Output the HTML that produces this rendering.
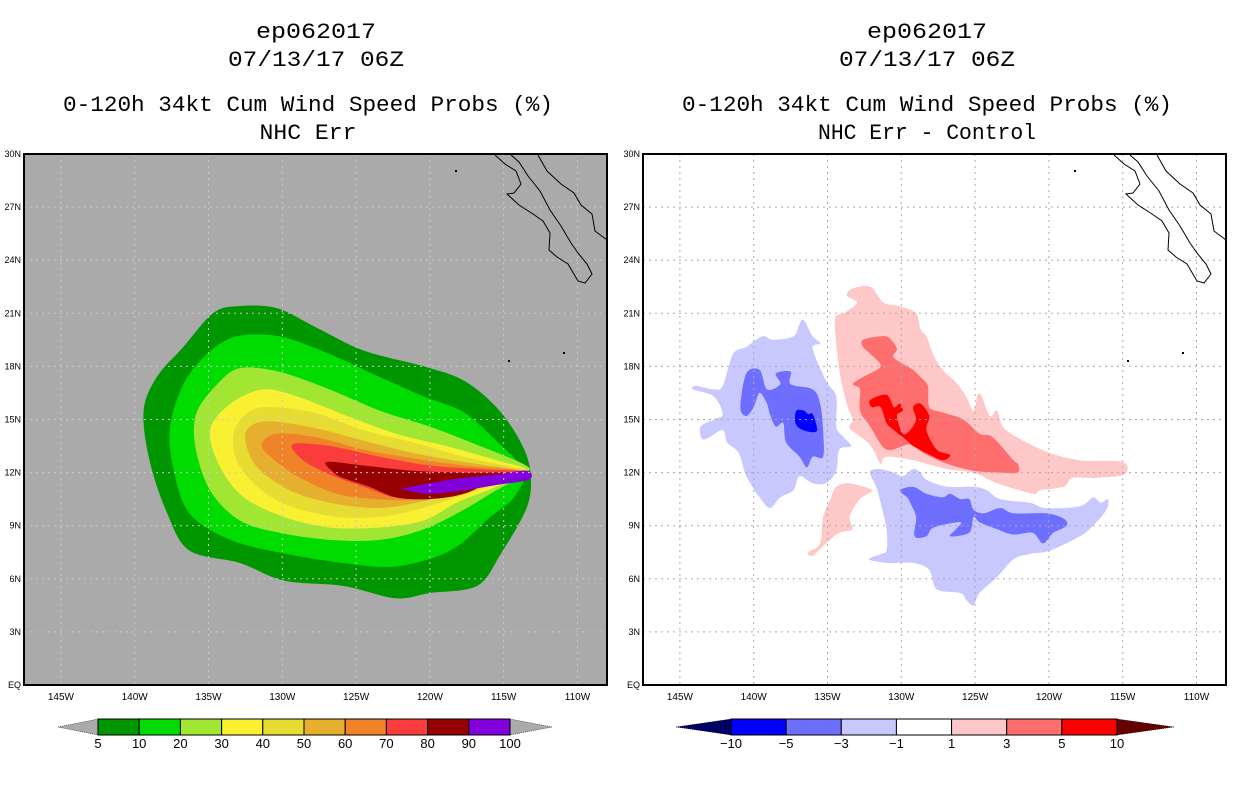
<!DOCTYPE html>
<html><head><meta charset="utf-8"><style>
html,body{margin:0;padding:0;background:#fff;}
svg{display:block;font-family:"Liberation Mono",monospace;}
</style></head><body>
<svg id="fig" width="1236" height="800" viewBox="0 0 1236 800" xmlns="http://www.w3.org/2000/svg">
<g font-size="22" text-anchor="middle" fill="#000">
<text x="316" y="38" textLength="120" lengthAdjust="spacingAndGlyphs">ep062017</text>
<text x="316" y="66" textLength="176" lengthAdjust="spacingAndGlyphs">07/13/17 06Z</text>
<text x="308" y="111" textLength="490" lengthAdjust="spacingAndGlyphs">0-120h 34kt Cum Wind Speed Probs (%)</text>
<text x="308" y="139" textLength="97" lengthAdjust="spacingAndGlyphs">NHC Err</text>
</g>
<g font-size="22" text-anchor="middle" fill="#000">
<text x="927" y="38" textLength="120" lengthAdjust="spacingAndGlyphs">ep062017</text>
<text x="927" y="66" textLength="176" lengthAdjust="spacingAndGlyphs">07/13/17 06Z</text>
<text x="927" y="111" textLength="490" lengthAdjust="spacingAndGlyphs">0-120h 34kt Cum Wind Speed Probs (%)</text>
<text x="927" y="139" textLength="218" lengthAdjust="spacingAndGlyphs">NHC Err - Control</text>
</g>
<g id="leftPanel"></g>
<g id="rightPanel"></g>
<g id="leftBar"></g>
<g id="rightBar"></g>
</svg>
<script>
// ---- data ----
const lonTicks = [-145,-140,-135,-130,-125,-120,-115,-110];
const lonTickLabels = ["145W","140W","135W","130W","125W","120W","115W","110W"];
const latTicks = [0,3,6,9,12,15,18,21,24,27,30];
const latTickLabels = ["EQ","3N","6N","9N","12N","15N","18N","21N","24N","27N","30N"];
const probLevels = ["5","10","20","30","40","50","60","70","80","90","100"];
const probColors = ["#009600","#00dc00","#a0e632","#faf032","#e6dc32","#e6af2d","#f08228","#fa3c3c","#960000","#8200dc"];
const diffLevels = ["-10","-5","-3","-1","1","3","5","10"];
const diffColors = ["#0000ff","#6e6eff","#c8c8ff","#ffffff","#ffc8c8","#ff6e6e","#ff0000"];
// left contours
const p5Lon = [-133.1,-130.4,-127.7,-124.5,-120.4,-117.7,-115.5,-113.9,-113.2,-113.4,-115.2,-116.8,-120.0,-122.3,-125.9,-129.9,-132.9,-136.3,-137.8,-139.0,-139.4,-138.5,-136.7,-134.7];
const p5Lat = [21.4,21.3,20.2,18.9,18.0,17.2,15.7,13.8,12.1,10.1,7.4,5.6,5.2,4.9,5.6,5.9,6.9,7.6,9.7,12.7,15.5,17.4,19.1,21.0];
const p10Lon = [-133.1,-130.2,-126.8,-123.4,-120.4,-117.7,-115.5,-113.9,-113.4,-114.4,-115.9,-118.6,-122.3,-125.9,-129.7,-133.5,-136.3,-137.4,-137.6,-136.7,-135.1];
const p10Lat = [19.7,19.7,18.7,17.4,16.3,15.4,13.8,12.5,12.0,10.5,9.5,7.6,6.7,6.9,7.4,8.2,9.7,12.3,14.6,17.0,18.7];
const p20Lon = [-132.9,-130.2,-126.8,-123.4,-120.0,-116.6,-113.7,-113.4,-115.5,-117.7,-120.4,-123.4,-126.8,-130.2,-132.9,-134.9,-135.9,-135.8,-134.4];
const p20Lat = [17.9,17.7,16.7,15.5,14.6,13.5,12.5,12.0,11.0,9.9,8.8,8.2,8.2,8.6,9.3,11.0,13.5,15.4,17.0];
const p30Lon = [-131.3,-129.0,-125.6,-122.3,-118.9,-115.5,-113.4,-115.5,-118.2,-120.4,-123.4,-126.8,-129.9,-132.6,-134.2,-134.9,-133.5];
const p30Lat = [16.7,16.3,15.2,14.2,13.5,12.7,12.1,11.2,10.3,9.3,8.9,8.9,9.5,10.6,12.3,14.4,15.9];
const p40Lon = [-131.3,-127.9,-124.5,-121.1,-117.7,-114.3,-113.4,-115.5,-118.2,-120.9,-123.4,-126.3,-129.5,-131.7,-133.1,-133.3,-132.6];
const p40Lat = [15.7,15.4,14.4,13.7,12.9,12.3,12.1,11.4,10.6,9.9,9.5,9.5,10.1,11.2,12.7,14.2,15.2];
const p50Lon = [-130.8,-127.7,-124.5,-121.1,-117.7,-114.3,-113.4,-115.5,-118.2,-120.9,-123.6,-126.8,-129.5,-131.7,-132.5,-132.2];
const p50Lat = [14.9,14.5,13.8,13.1,12.6,12.2,12.0,11.5,10.9,10.3,10.0,10.3,11.0,12.3,13.8,14.6];
const p60Lon = [-130.4,-127.7,-124.5,-121.1,-117.7,-113.4,-117.7,-120.9,-123.6,-126.3,-129.0,-130.8,-131.4];
const p60Lat = [14.2,14.0,13.3,12.8,12.4,12.0,11.2,10.5,10.5,10.8,11.8,12.9,13.6];
const p70Lon = [-129.3,-126.8,-123.4,-120.0,-116.6,-113.4,-116.6,-120.0,-122.3,-124.5,-126.8,-128.6];
const p70Lat = [13.6,13.5,12.9,12.4,12.2,12.0,11.5,10.8,10.6,11.2,11.9,12.7];
const p80Lon = [-127.0,-124.5,-121.1,-117.7,-113.4,-115.5,-117.7,-120.0,-122.3,-124.1,-125.9,-126.5];
const p80Lat = [12.6,12.4,12.1,12.0,12.0,11.6,10.8,10.5,10.6,11.2,11.7,12.0];
const p90Lon = [-121.8,-120.0,-117.7,-115.5,-113.4,-113.3,-115.5,-117.7,-120.0,-121.6];
const p90Lat = [11.1,11.4,11.7,11.9,12.1,11.6,11.3,11.0,10.8,11.0];
// right contours
const lbWLon = [-136.6,-136.0,-135.5,-136.0,-135.1,-134.4,-134.4,-133.9,-133.4,-134.2,-134.4,-135.1,-136.0,-136.9,-137.3,-138.2,-138.9,-139.6,-140.5,-140.9,-141.2,-141.8,-142.1,-143.0,-143.5,-143.6,-142.7,-142.1,-142.7,-144.1,-143.9,-142.7,-142.1,-141.4,-140.5,-139.4,-138.7,-137.3,-136.9];
const lbWLat = [20.6,19.7,19.3,19.0,17.2,16.3,14.6,14.0,13.5,13.3,12.1,11.4,11.4,11.8,11.0,10.6,10.0,10.6,11.8,12.9,13.3,13.7,14.4,14.0,13.9,14.6,15.0,15.3,16.3,16.7,16.9,16.7,16.9,18.7,19.1,19.7,19.5,19.7,20.4];
const mbWLon = [-140.5,-139.6,-139.1,-138.2,-138.5,-137.5,-137.5,-136.0,-135.5,-135.3,-135.3,-136.0,-136.4,-136.9,-137.8,-138.0,-138.5,-138.9,-139.1,-139.6,-140.0,-140.5,-140.9];
const mbWLat = [17.6,17.8,16.7,17.0,17.6,17.7,17.0,16.7,15.9,14.4,12.9,12.9,12.3,12.9,13.7,14.8,14.6,15.3,15.9,16.5,15.7,15.2,15.7];
const dbWLon = [-137.1,-136.6,-136.3,-136.0,-135.7,-136.2,-136.9,-137.2];
const dbWLat = [15.5,15.5,15.3,15.3,14.4,14.3,14.5,14.9];
const lrNLon = [-133.7,-133.3,-132.1,-131.2,-130.1,-129.0,-128.7,-128.3,-127.8,-127.2,-126.3,-125.6,-125.1,-124.7,-124.0,-123.5,-122.9,-120.2,-117.9,-115.0,-114.9,-116.8,-118.4,-119.0,-120.6,-121.1,-123.5,-125.1,-126.9,-129.2,-131.0,-131.4,-131.9,-132.4,-133.5,-133.3,-133.7,-134.2,-134.5,-133.9,-133.0];
const lrNLat = [22.0,22.4,22.5,21.6,21.4,21.0,20.1,19.7,18.6,17.8,17.1,16.3,15.5,16.5,15.2,15.5,14.4,13.2,12.7,12.6,11.9,11.7,11.7,11.2,11.0,10.8,11.4,12.0,12.2,12.7,12.9,12.5,13.3,13.8,14.5,15.0,15.9,17.8,20.6,21.0,21.6];
const mrNLon = [-132.6,-131.4,-130.8,-130.3,-130.5,-129.2,-128.7,-128.2,-128.1,-127.2,-125.8,-124.7,-123.8,-122.4,-122.1,-122.1,-123.3,-125.1,-126.9,-128.5,-129.4,-131.0,-132.1,-132.8,-132.8,-133.3,-132.6,-131.4,-132.1,-132.6];
const mrNLat = [19.5,19.7,19.6,19.0,18.5,17.8,17.4,16.9,15.7,15.4,15.0,14.2,14.0,12.7,12.5,12.0,12.0,12.1,12.5,13.1,13.6,13.3,14.6,15.5,16.7,17.0,17.4,18.0,18.7,19.1];
const rNLon = [-132.1,-131.0,-130.5,-130.1,-129.9,-130.3,-129.9,-129.4,-129.0,-129.2,-128.7,-128.1,-128.3,-127.6,-126.7,-127.2,-128.3,-129.2,-129.6,-130.5,-131.0,-131.4,-132.0];
const rNLat = [16.1,16.4,15.7,15.9,15.5,15.2,14.2,14.4,15.0,15.7,15.9,15.2,14.4,13.3,13.0,12.7,13.1,13.5,13.8,14.4,14.8,15.7,15.7];
const lrSWLon = [-134.4,-133.5,-132.0,-132.8,-133.5,-133.3,-134.2,-135.1,-136.0,-136.3,-135.5,-135.3,-134.8];
const lrSWLat = [11.2,11.4,11.0,10.5,9.5,8.8,8.6,8.0,7.3,7.5,8.0,9.5,10.5];
const lbSLon = [-132.1,-131.4,-130.5,-129.9,-129.2,-128.7,-128.3,-126.9,-125.1,-124.2,-123.3,-121.3,-120.2,-117.9,-117.0,-116.5,-116.0,-116.1,-117.0,-117.9,-119.9,-121.3,-122.4,-123.5,-124.7,-125.1,-125.6,-126.0,-127.6,-128.1,-129.2,-131.0,-132.2,-131.4,-131.0,-131.0,-131.4,-131.7,-132.0];
const lbSLat = [12.1,12.2,12.0,11.8,12.2,12.0,11.6,11.2,11.2,11.0,10.5,10.3,10.0,10.1,10.6,10.3,10.5,9.9,9.0,8.4,7.6,7.4,7.1,6.1,5.2,4.5,4.8,5.2,5.4,6.5,6.9,6.9,7.1,7.4,7.6,8.8,10.3,11.2,11.7];
const mbSLon = [-130.1,-129.2,-128.3,-127.2,-126.7,-126.0,-125.4,-125.1,-124.4,-123.3,-122.4,-120.2,-119.0,-118.8,-119.7,-120.4,-121.1,-122.4,-123.5,-124.7,-125.1,-125.4,-126.7,-126.3,-126.0,-127.8,-128.3,-129.1,-129.0,-129.4,-129.6];
const mbSLat = [11.0,11.2,10.8,10.6,10.8,10.5,10.5,9.9,9.7,10.0,9.7,9.7,9.4,9.0,8.6,8.0,8.6,8.5,8.8,9.2,9.5,8.6,8.4,8.8,9.2,8.9,8.4,8.4,9.5,10.3,10.6];

// ---- geometry ----
const X0L = 24, X0R = 643, W = 583, Y0 = 154, H = 531;
const LON_MIN = -147.5, LON_MAX = -108.0, LAT_MIN = 0, LAT_MAX = 30;
function xScale(lon, x0){ return x0 + (lon - LON_MIN) / (LON_MAX - LON_MIN) * W; }
function yScale(lat){ return Y0 + H - (lat - LAT_MIN) / (LAT_MAX - LAT_MIN) * H; }
const NS = "http://www.w3.org/2000/svg";
function mk(tag, attrs, parent){ const e = document.createElementNS(NS, tag); for (const k in attrs) e.setAttribute(k, attrs[k]); parent.appendChild(e); return e; }
function smoothPath(lons, lats, x0){
  const p = lons.map((l,i)=>[xScale(l,x0), yScale(lats[i])]); const n = p.length;
  let d = "M"+p[0][0].toFixed(1)+","+p[0][1].toFixed(1);
  for (let i=0;i<n;i++){
    const a=p[(i-1+n)%n], b=p[i], c=p[(i+1)%n], e=p[(i+2)%n], t=0.16;
    d += "C"+(b[0]+(c[0]-a[0])*t).toFixed(1)+","+(b[1]+(c[1]-a[1])*t).toFixed(1)+" "+(c[0]-(e[0]-b[0])*t).toFixed(1)+","+(c[1]-(e[1]-b[1])*t).toFixed(1)+" "+c[0].toFixed(1)+","+c[1].toFixed(1);
  }
  return d+"Z";
}
const coast = [[495,155],[505,164],[516,171],[521,184],[514,193],[507,194],[519,205],[533,214],[543,221],[550,233],[549,250],[557,257],[568,264],[578,281],[585,283],[592,274],[587,264],[578,253],[571,243],[561,226],[550,210],[540,191],[528,176],[519,162],[511,155]];
const mainland = [[538,155],[547,171],[561,184],[574,193],[581,205],[592,214],[595,231],[607,240]];

function panel(g, x0, bg, gridColor, contours, prefix){
  mk("rect",{x:x0,y:Y0,width:W,height:H,fill:bg},g);
  contours.forEach(c=>{
    const el = mk("path",{d:smoothPath(c[0],c[1],x0),fill:c[2]},g);
    
    
  });
  lonTicks.forEach((lon,i)=>{
    const x = xScale(lon,x0);
    const ln = mk("line",{x1:x,x2:x,y1:Y0,y2:Y0+H,stroke:gridColor,"stroke-width":1,"stroke-dasharray":"2,4"},g);
    
    
    const t = mk("text",{x:x,y:Y0+H+15,"font-size":10,"text-anchor":"middle",fill:"#000","font-family":"Liberation Sans, sans-serif"},g);
    t.textContent = lonTickLabels[i];
    
    
  });
  latTicks.forEach((lat,i)=>{
    const y = yScale(lat);
    if (lat>0 && lat<30){
      const ln = mk("line",{x1:x0,x2:x0+W,y1:y,y2:y,stroke:gridColor,"stroke-width":1,"stroke-dasharray":"2,4"},g);
      
      
    }
    const t = mk("text",{x:x0-3,y:y+3,"font-size":9,"text-anchor":"end",fill:"#000","font-family":"Liberation Sans, sans-serif"},g);
    t.textContent = latTickLabels[i];
    
    
  });
  const dx = x0 - X0L;
  [coast, mainland].forEach(pts=>{
    const pl = mk("polyline",{points:pts.map(p=>(p[0]+dx)+","+p[1]).join(" "),fill:"none",stroke:"#000","stroke-width":1},g);
    
    
  });
  [[455,170],[508,360],[563,352]].forEach(p=>{
    const r = mk("rect",{x:p[0]+dx,y:p[1],width:2,height:2,fill:"#000"},g);
    
    
  });
  const fr = mk("rect",{x:x0,y:Y0,width:W,height:H,fill:"none",stroke:"#000","stroke-width":2},g);
  
  
}
panel(document.getElementById("leftPanel"), X0L, "#aaaaaa", "#c8c8c8", [
  [p5Lon,p5Lat,probColors[0],"5"],[p10Lon,p10Lat,probColors[1],"10"],[p20Lon,p20Lat,probColors[2],"20"],
  [p30Lon,p30Lat,probColors[3],"30"],[p40Lon,p40Lat,probColors[4],"40"],[p50Lon,p50Lat,probColors[5],"50"],
  [p60Lon,p60Lat,probColors[6],"60"],[p70Lon,p70Lat,probColors[7],"70"],[p80Lon,p80Lat,probColors[8],"80"],
  [p90Lon,p90Lat,probColors[9],"90"]], "left");
panel(document.getElementById("rightPanel"), X0R, "#ffffff", "#aaaaaa", [
  [lbWLon,lbWLat,diffColors[2],"west-minus1"],[mbWLon,mbWLat,diffColors[1],"west-minus3"],[dbWLon,dbWLat,diffColors[0],"west-minus5"],
  [lrNLon,lrNLat,diffColors[4],"north-plus1"],[mrNLon,mrNLat,diffColors[5],"north-plus3"],[rNLon,rNLat,diffColors[6],"north-plus5"],
  [lrSWLon,lrSWLat,diffColors[4],"southwest-plus1"],[lbSLon,lbSLat,diffColors[2],"south-minus1"],[mbSLon,mbSLat,diffColors[1],"south-minus3"]], "right");

function colorbar(g, tipL, boxL, boxR, tipR, colors, labels, lowTip, highTip, prefix){
  const y1=719, y2=735, ym=727, n=colors.length, bw=(boxR-boxL)/n;
  const a = mk("polygon",{points:`${tipL},${ym} ${boxL},${y1} ${boxL},${y2}`,fill:lowTip,stroke:"#000","stroke-width":0.5,"stroke-dasharray":"1,1"},g);
   
  const b = mk("polygon",{points:`${tipR},${ym} ${boxR},${y1} ${boxR},${y2}`,fill:highTip,stroke:"#000","stroke-width":0.5,"stroke-dasharray":"1,1"},g);
   
  colors.forEach((c,i)=>{
    const r = mk("rect",{x:boxL+i*bw,y:y1,width:bw,height:y2-y1,fill:c,stroke:"#000","stroke-width":1},g);
     
  });
  labels.forEach((l,i)=>{
    const t = mk("text",{x:boxL+i*bw,y:748,"font-size":13,"text-anchor":"middle",fill:"#000","font-family":"Liberation Sans, sans-serif"},g);
    t.textContent = l.replace("-","\u2212");
     
  });
}
colorbar(document.getElementById("leftBar"), 58, 98, 510, 552, probColors, probLevels, "#aaaaaa", "#aaaaaa", "left-colorbar");
colorbar(document.getElementById("rightBar"), 676, 731, 1117, 1174, diffColors, diffLevels, "#000064", "#640000", "right-colorbar");
</script>
</body></html>
